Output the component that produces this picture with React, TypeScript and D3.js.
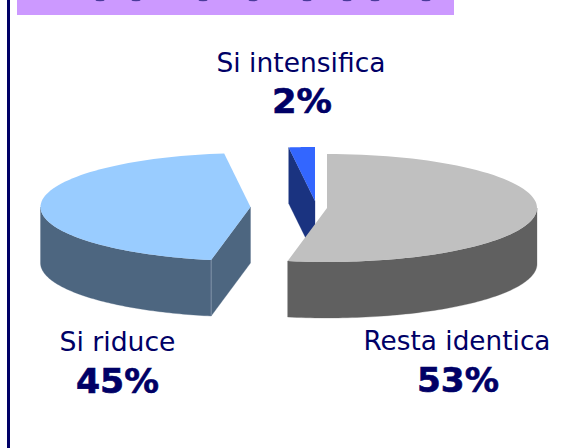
import React from "react";
import * as d3 from "d3";

const categories = ["Resta identica", "Si riduce", "Si intensifica"];
const values = [53, 45, 2];
const percentLabels = ["53%", "45%", "2%"];
const topColors = ["#c0c0c0", "#99ccff", "#3366ff"];
const sideColors = ["#606060", "#4d6680", "#1a3380"];
const clippedTitleMarks = [100, 136, 203, 253, 307, 347, 375, 426];

const W = 570;
const H = 448;
const RX = 210;
const RY = 54;
const DEPTH = 56;
const centers = [
  { cx: 327, cy: 208 },
  { cx: 250.5, cy: 207 },
  { cx: 315, cy: 201 },
];
const labelPos = [
  { x: 457, y1: 350, w: 187, px: 458, y2: 392, pw: 82 },
  { x: 117.5, y1: 351, w: 116, px: 117.5, y2: 393, pw: 83 },
  { x: 301, y1: 72, w: 169, px: 302, y2: 113, pw: 60 },
];

const navy = "#000066";

function arcPoints(cx: number, cy: number, t0: number, t1: number, dy = 0) {
  const n = 80;
  return d3.range(n + 1).map((i) => {
    const t = t0 + ((t1 - t0) * i) / n;
    return [cx + RX * Math.sin(t), cy + dy - RY * Math.cos(t)] as [number, number];
  });
}

export default function App() {
  const angle = d3.scaleLinear().domain([0, d3.sum(values)]).range([0, 2 * Math.PI]);
  const cum = d3.cumsum(values);
  const line = d3.line();
  const slices = values.map((v, i) => {
    const t0 = angle(cum[i] - v);
    const t1 = angle(cum[i]);
    const { cx, cy } = centers[i];
    const top = arcPoints(cx, cy, t0, t1);
    const topPath = line([[cx, cy], ...top, [cx, cy]]) + "Z";

    // outer wall: only the visible front half of the rim
    const a = Math.max(t0, Math.PI / 2);
    const b = Math.min(t1, (3 * Math.PI) / 2);
    const walls: string[] = [];
    let seam: [number, number] | null = null;
    if (b > a) {
      const upper = arcPoints(cx, cy, a, b);
      const lower = arcPoints(cx, cy, a, b, DEPTH).reverse();
      walls.push(line([...upper, ...lower])! + "Z");
    }
    // cut face: only the one turned towards the viewer
    if (t0 > Math.PI && t0 < 2 * Math.PI) {
      const p: [number, number] = [cx + RX * Math.sin(t0), cy - RY * Math.cos(t0)];
      walls.push(line([[cx, cy], p, [p[0], p[1] + DEPTH], [cx, cy + DEPTH]])! + "Z");
      if (b > a) seam = p;
    }
    return { topPath, walls, seam, i };
  });

  // painter's order: small slice behind, then the two large ones
  const order = [2, 1, 0];

  return (
    <svg
      width={W}
      height={H}
      viewBox={`0 0 ${W} ${H}`}
      style={{ position: "fixed", left: 0, top: 0, background: "#fff" }}
      fontFamily="'DejaVu Sans', Verdana, sans-serif"
    >
      <rect x={7} y={0} width={3} height={H} fill={navy} />
      <rect x={17} y={0} width={437} height={15} fill="#cc99ff" />
      {clippedTitleMarks.map((x) => (
        <ellipse key={x} cx={x} cy={0} rx={4.5} ry={1.2} fill="#4a3a9a" />
      ))}
      {order.map((k) => {
        const s = slices[k];
        return (
          <g key={categories[k]}>
            {s.walls.map((d, j) => (
              <path key={j} d={d} fill={sideColors[k]} stroke={sideColors[k]} strokeWidth={0.3} />
            ))}
            {s.seam && (
              <line
                x1={s.seam[0]}
                y1={s.seam[1]}
                x2={s.seam[0]}
                y2={s.seam[1] + DEPTH}
                stroke="#8a9bb0"
                strokeWidth={0.8}
              />
            )}
            <path d={s.topPath} fill={topColors[k]} />
          </g>
        );
      })}
      {categories.map((c, i) => (
        <g key={c} fill={navy} textAnchor="middle">
          <text
            x={labelPos[i].x}
            y={labelPos[i].y1}
            fontSize={27}
            textLength={labelPos[i].w}
            lengthAdjust="spacingAndGlyphs"
          >
            {c}
          </text>
          <text
            x={labelPos[i].px}
            y={labelPos[i].y2}
            fontSize={33}
            fontWeight="bold"
            stroke={navy}
            strokeWidth={0.6}
            textLength={labelPos[i].pw}
            lengthAdjust="spacingAndGlyphs"
          >
            {percentLabels[i]}
          </text>
        </g>
      ))}
    </svg>
  );
}
